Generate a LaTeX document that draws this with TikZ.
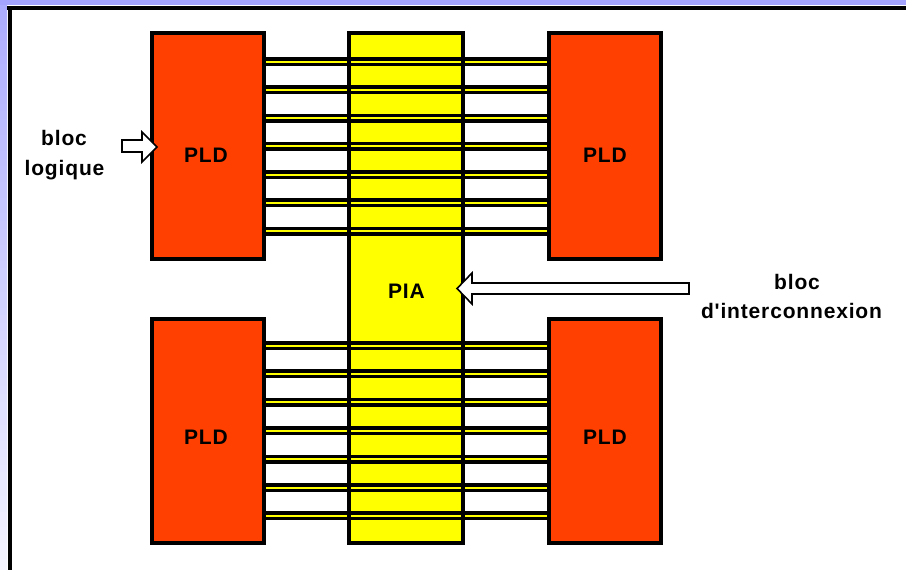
\documentclass[tikz,border=0pt]{standalone}
\usepackage{fontspec}
\newfontfamily\labfont{Liberation Sans}[LetterSpace=4]
\definecolor{pldred}{HTML}{FF4000}
\definecolor{piayellow}{HTML}{FFFF00}
\definecolor{framebluetop}{HTML}{A4A4FF}
\definecolor{frameblueleft}{HTML}{ACACFF}
\definecolor{framebluelow}{HTML}{F4F4FF}
\tikzset{
  pldbox/.style={draw=black, line width=4pt, fill=pldred, minimum width=112pt, minimum height=226pt, inner sep=0pt, outer sep=0pt},
  piabox/.style={line width=4pt, minimum width=114pt, minimum height=510pt, inner sep=0pt, outer sep=0pt},
  bus/.style={draw=black, line width=3.5pt, double=piayellow, double distance=2pt},
  lab/.style={font=\labfont\bfseries\fontsize{21}{25}\selectfont, inner sep=0pt, anchor=base},
  blockarrow/.style={draw=black, fill=white, line width=1.6pt, line join=miter}
}
\begin{document}
\begin{tikzpicture}[x=1pt,y=-1pt]
\useasboundingbox (0,0) rectangle (906,570);
% frame
\fill[white] (0,0) rectangle (906,570);
\fill[framebluetop] (0,0) rectangle (906,5);
\shade[top color=frameblueleft, bottom color=framebluelow] (0,5) rectangle (7,570);
\fill[black] (7,6) rectangle (906,10);
\fill[black] (7.5,6) rectangle (11.5,570);
% PLD blocks
\node[pldbox] (tl) at (208,146) {};
\node[pldbox] (tr) at (605,146) {};
\node[pldbox, minimum height=224pt] (bl) at (208,431) {};
\node[pldbox, minimum height=224pt] (br) at (605,431) {};
% PIA fill
\node[piabox, fill=piayellow] (pia) at (406,288) {};
% bus end points
\coordinate (busL) at (266,0);
\coordinate (busR) at (547,0);
\foreach \y in {61.5,89.75,118,146.25,174.5,202.75,231}
  \draw[bus] (busL |- 0,\y) -- (busR |- 0,\y);
\foreach \y in {345.5,373.9,402.3,430.7,459.1,487.5,515.9}
  \draw[bus] (busL |- 0,\y) -- (busR |- 0,\y);
% PIA border on top
\node[piabox, draw=black] (piaborder) at (406,288) {};
% labels
\node[lab] (tlt) at (206,162) {PLD};
\node[lab] (trt) at (605,162) {PLD};
\node[lab] (blt) at (206,444) {PLD};
\node[lab] (brt) at (605,444) {PLD};
\node[lab] (piat) at (406.5,298) {PIA};
\node[lab] (bl1) at (64,145) {bloc};
\node[lab] (bl2) at (64.5,175) {logique};
\node[lab] (br1) at (797,289) {bloc};
\node[lab] (br2) at (791.5,318) {d'interconnexion};
% block arrows
\draw[blockarrow] (122,140) -- (142,140) -- (142,132) -- (157,147) -- (142,162) -- (142,152) -- (122,152) -- cycle;
\draw[blockarrow] (689,283) -- (472,283) -- (472,273) -- (457,288.5) -- (472,304) -- (472,294) -- (689,294) -- cycle;
\end{tikzpicture}
\end{document}
